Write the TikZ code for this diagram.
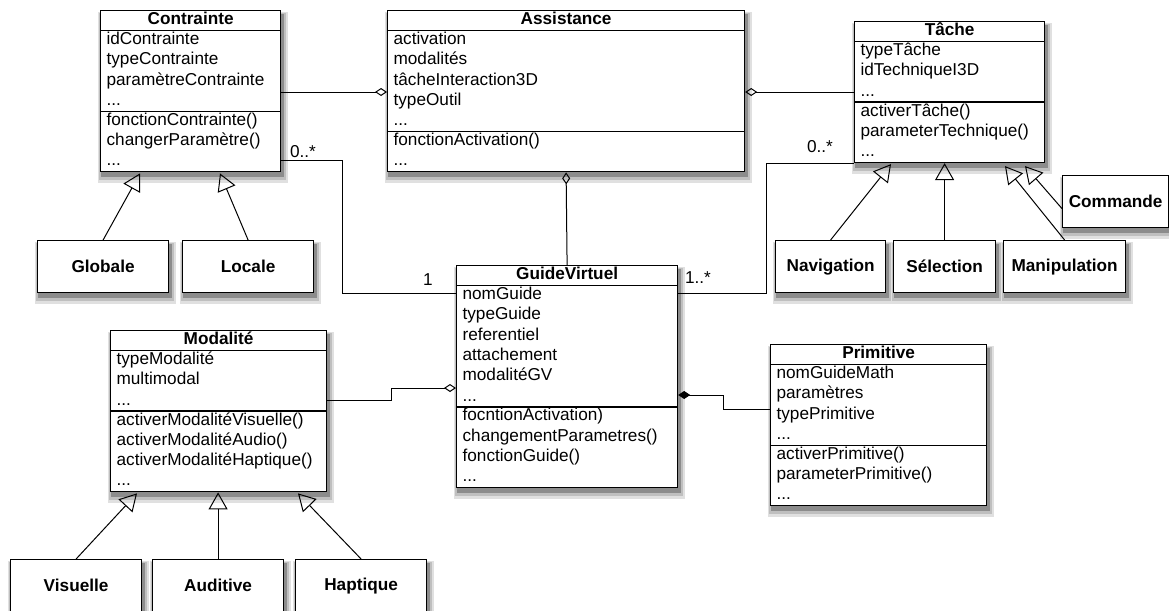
\documentclass[tikz,border=0pt]{standalone}
\usepackage{fontspec}
\setmainfont{Liberation Sans}
\usetikzlibrary{shapes.multipart,arrows.meta,backgrounds}

\newcommand{\taille}{\fontsize{17.2}{20.3}\selectfont}

\tikzset{
  classe/.style={rectangle split,rectangle split parts=3,draw,fill=white,line width=1.2pt,
    minimum width=#1,inner xsep=6pt,inner ysep=-0.8pt,align=left,
    rectangle split part align={center,left,left},anchor=north west},
  sousclasse/.style={draw,fill=white,line width=1.2pt,minimum width=#1,minimum height=52pt,
    anchor=north west,font=\taille\bfseries},
  lien/.style={line width=1pt},
  agreg/.style={lien,{Diamond[open,length=12pt,width=8pt]}-},
  compo/.style={lien,{Diamond[length=12pt,width=8pt]}-},
  herit/.style={lien,-{Triangle[open,length=17pt,width=19pt]}},
  mult/.style={inner sep=0pt}
}

\begin{document}
\begin{tikzpicture}[x=1pt,y=-1pt,font=\taille]
\useasboundingbox (0,0) rectangle (1169,610);
\node[classe=180pt] (contrainte) at (100,10) {\strut\textbf{Contrainte}
  \nodepart{two}\strut idContrainte\\\strut typeContrainte\\\strut paramètreContrainte\\\strut ...
  \nodepart{three}\strut fonctionContrainte()\\\strut changerParamètre()\\\strut ...};
\node[classe=357pt] (assistance) at (387,10) {\strut\textbf{Assistance}
  \nodepart{two}\strut activation\\\strut modalités\\\strut tâcheInteraction3D\\\strut typeOutil\\\strut ...
  \nodepart{three}\strut fonctionActivation()\\\strut ...};
\node[classe=190pt] (tache) at (854,21) {\strut\textbf{Tâche}
  \nodepart{two}\strut typeTâche\\\strut idTechniqueI3D\\\strut ...
  \nodepart{three}\strut activerTâche()\\\strut parameterTechnique()\\\strut ...};
\node[classe=221pt] (guide) at (456,265) {\strut\textbf{GuideVirtuel}
  \nodepart{two}\strut nomGuide\\\strut typeGuide\\\strut referentiel\\\strut attachement\\\strut modalitéGV\\\strut ...
  \nodepart{three}\strut focntionActivation)\\\strut changementParametres()\\\strut fonctionGuide()\\\strut ...};
\node[classe=216pt] (modalite) at (110,330) {\strut\textbf{Modalité}
  \nodepart{two}\strut typeModalité\\\strut multimodal\\\strut ...
  \nodepart{three}\strut activerModalitéVisuelle()\\\strut activerModalitéAudio()\\\strut activerModalitéHaptique()\\\strut ...};
\node[classe=216pt] (primitive) at (770,344) {\strut\textbf{Primitive}
  \nodepart{two}\strut nomGuideMath\\\strut paramètres\\\strut typePrimitive\\\strut ...
  \nodepart{three}\strut activerPrimitive()\\\strut parameterPrimitive()\\\strut ...};

\node[sousclasse=131pt] (globale) at (37,240) {Globale};
\node[sousclasse=131pt] (locale) at (182,240) {Locale};
\node[sousclasse=110pt] (navigation) at (775,240) {Navigation};
\node[sousclasse=102pt] (selection) at (893,240) {Sélection};
\node[sousclasse=122pt] (manipulation) at (1003,240) {Manipulation};
\node[sousclasse=106pt] (commande) at (1062,175) {Commande};
\node[sousclasse=131pt] (visuelle) at (10,559) {Visuelle};
\node[sousclasse=131pt] (auditive) at (152,559) {Auditive};
\node[sousclasse=131pt] (haptique) at (295,559) {Haptique};

\begin{scope}[on background layer]
\foreach \n in {contrainte,assistance,tache,guide,modalite,primitive,globale,locale,
    navigation,selection,manipulation,commande,visuelle,auditive,haptique} {
  \fill[black!12] ([shift={(-2,2)}]\n.north west) rectangle ([shift={(7,11)}]\n.south east);
  \fill[black!25] ([shift={(-1,3)}]\n.north west) rectangle ([shift={(5,8)}]\n.south east);
  \fill[black!45] ([shift={(1,4)}]\n.north west) rectangle ([shift={(3,5)}]\n.south east);
}
\end{scope}

\draw[agreg] (assistance.west |- 0,92) -- (contrainte.east |- 0,92);
\draw[agreg] (assistance.east |- 0,92) -- (tache.west |- 0,92);
\draw[agreg] (assistance.south) -- (guide.north);
\draw[lien] (contrainte.east |- 0,160) -- (342,160) |- (guide.west |- 0,293);
\draw[lien] (tache.south west) -- ++(-88,0) |- (guide.east |- 0,293);
\draw[agreg] (guide.west |- 0,388) -- (391,388) |- (modalite.east |- 0,400);
\draw[compo] (guide.east |- 0,395) -- (723,395) |- (primitive.west |- 0,409);

\draw[herit] (globale.north) -- ([shift={(40,1)}]contrainte.south west);
\draw[herit] (locale.north) -- ([shift={(120,1)}]contrainte.south west);
\draw[herit] (navigation.north) -- ([shift={(37,1)}]tache.south west);
\draw[herit] (selection.north) -- (selection.north |- tache.south);
\draw[herit] (manipulation.north) -- ([shift={(151,3)}]tache.south west);
\draw[herit] ([yshift=-7pt]commande.west) -- ([shift={(171,3)}]tache.south west);
\draw[herit] (visuelle.north) -- ([shift={(27,1)}]modalite.south west);
\draw[herit] (auditive.north) -- (auditive.north |- modalite.south);
\draw[herit] (haptique.north) -- ([shift={(188,1)}]modalite.south west);

\node[mult] (m1) at (303,152) {0..*};
\node[mult] (m2) at (428,280) {1};
\node[mult] (m3) at (820,147) {0..*};
\node[mult] (m4) at (698,278) {1..*};
\end{tikzpicture}
\end{document}
